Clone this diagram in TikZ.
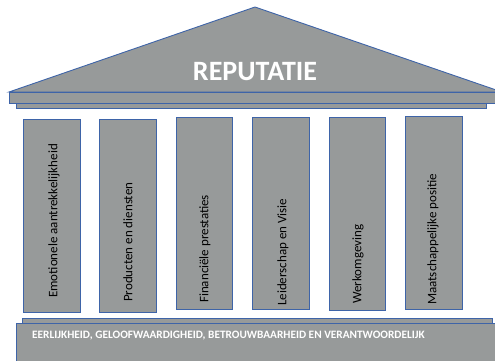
\documentclass[tikz,border=0pt]{standalone}
\usepackage{fontspec}
\setmainfont{Carlito}
\definecolor{pgray}{RGB}{151,154,154}
\definecolor{pblue}{RGB}{62,100,168}
\begin{document}
\begin{tikzpicture}[x=1pt,y=-1pt,
  part/.style={fill=pgray,draw=pblue,line width=0.9pt},
  coltext/.style={rotate=90,anchor=west,inner sep=0pt,font=\fontsize{13}{15}\selectfont,text=black},
  ]
\useasboundingbox (0,0) rectangle (495,360);
\clip (0,0) rectangle (495,360);
% roof
\draw[part] (9,92) -- (255,7) -- (502,92) -- cycle;
\draw[part] (9,92) rectangle (505,103);
\draw[part] (16,103) rectangle (486,108);
\node[font=\bfseries\fontsize{28}{32}\selectfont,text=white] (title) at (255,72) {REPUTATIE};
% columns
\draw[part] (23,119) rectangle (80,312);
\draw[part] (99,119) rectangle (156,312);
\draw[part] (176,117) rectangle (232,309);
\draw[part] (252,117) rectangle (309,309);
\draw[part] (329,117) rectangle (385,310);
\draw[part] (405,116) rectangle (462,309);
\node[coltext] (c1) at (54,298) {Emotionele aantrekkelijkheid};
\node[coltext] (c2) at (128,302) {Producten en diensten};
\node[coltext] (c3) at (205,303) {Financiële prestaties};
\node[coltext] (c4) at (283,306) {Leiderschap en Visie};
\node[coltext] (c5) at (358,304) {Werkomgeving};
\node[coltext] (c6) at (433,305) {Maatschappelijke positie};
% base
\draw[part] (22,318) rectangle (492,323);
\draw[part] (16,323) rectangle (505,370);
\node[anchor=base west,inner sep=0pt,font=\bfseries\fontsize{11.3}{13}\selectfont,text=white] (base) at (32,338.5) {EERLIJKHEID, GELOOFWAARDIGHEID, BETROUWBAARHEID EN VERANTWOORDELIJK};
\end{tikzpicture}
\end{document}
